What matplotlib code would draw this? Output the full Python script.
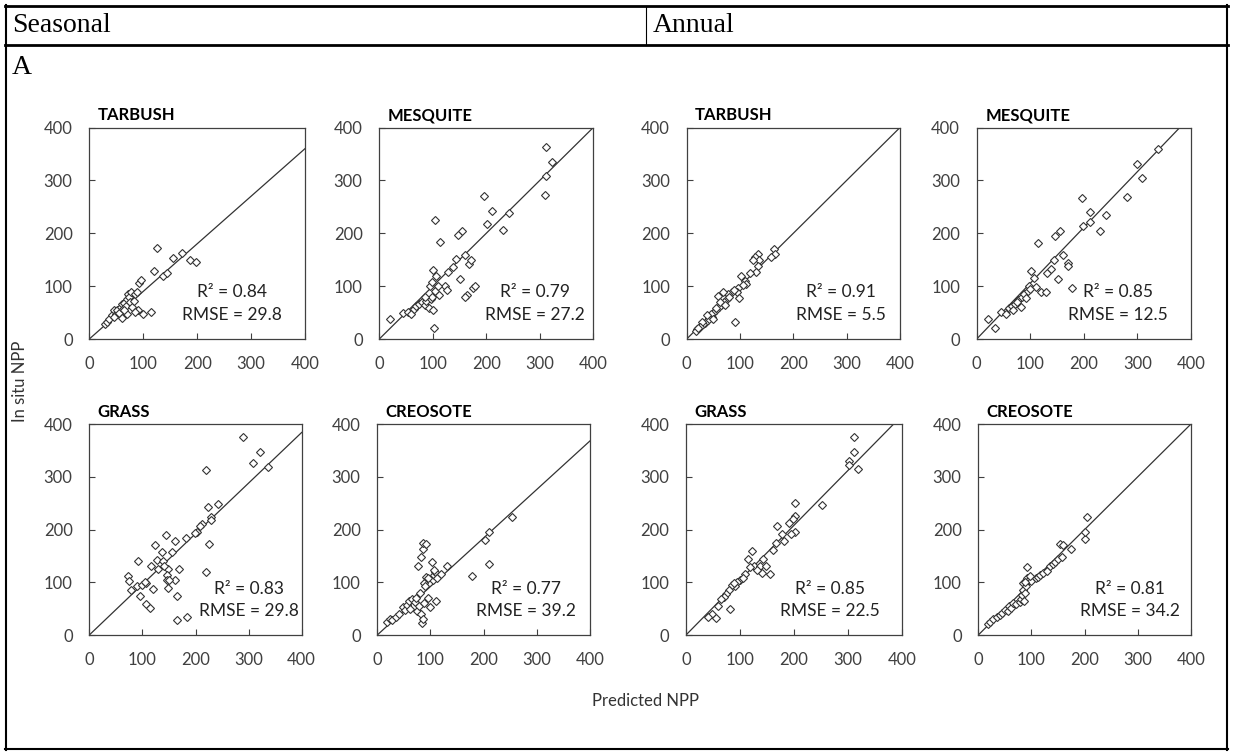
import matplotlib.pyplot as plt
from matplotlib.lines import Line2D

W, H = 1233, 753

tarbush_seasonal = [(30,28),(33,32),(37,38),(42,45),(45,55),(50,48),(52,55),(55,50),(58,60),(60,66),
                    (62,57),(65,68),(68,62),(70,76),(72,85),(74,80),(76,70),(78,88),(80,60),(82,72),
                    (85,86),(88,88),(92,105),(96,112),(90,55),(100,48),(115,52),(120,128),(125,172),
                    (137,119),(144,125),(156,153),(171,162),(187,150),(198,145),(60,40),(70,48),
                    (85,52),(45,42),(65,55)]
mesquite_seasonal = [(20,37),(44,50),(54,52),(60,48),(64,56),(68,62),(74,66),(80,70),(85,65),(88,72),
                     (92,58),(96,75),(98,80),(100,54),(103,20),(104,90),(101,131),(106,119),(95,100),
                     (98,107),(112,84),(123,100),(127,92),(129,127),(137,136),(143,152),(150,114),
                     (155,205),(147,197),(160,158),(163,84),(160,79),(168,141),(171,149),(176,97),
                     (179,100),(105,225),(113,184),(196,270),(201,217),(211,243),(231,206),(242,238),
                     (310,272),(312,308),(312,363),(322,334),(85,80),(110,100)]
tarbush_annual = [(164,171),(166,160),(159,156),(134,160),(128,155),(136,149),(125,150),(133,139),
                  (130,126),(119,125),(101,120),(109,110),(112,104),(105,102),(97,97),(94,88),(98,78),
                  (85,88),(78,85),(69,88),(59,82),(90,33),(75,75),(70,70),(65,65),(60,60),(55,55),
                  (50,50),(48,42),(45,48),(42,40),(40,35),(38,45),(35,30),(30,28),(28,32),(25,22),
                  (20,18),(18,15),(22,20),(62,70),(55,58),(80,80),(88,92),(72,65),(50,38)]
mesquite_annual = [(22,37),(34,21),(46,52),(54,48),(60,58),(66,62),(72,66),(78,74),(82,61),(85,80),
                   (88,85),(92,78),(95,90),(98,100),(102,129),(107,116),(110,98),(115,181),(120,88),
                   (129,89),(132,125),(139,133),(144,150),(146,195),(151,113),(155,204),(162,158),
                   (170,144),(170,138),(177,97),(197,267),(198,213),(211,241),(211,222),(231,204),
                   (242,234),(281,269),(300,331),(309,305),(339,360),(75,70),(68,55),(100,95)]
grass_seasonal = [(290,375),(321,346),(309,326),(336,319),(220,313),(224,243),(243,248),(230,224),
                  (229,218),(213,211),(208,206),(202,196),(199,193),(183,183),(144,190),(161,179),
                  (124,171),(136,158),(155,158),(226,173),(92,140),(128,142),(139,140),(130,125),
                  (149,125),(168,125),(220,119),(73,111),(147,114),(147,105),(75,103),(90,92),
                  (100,95),(107,98),(79,85),(96,74),(107,58),(114,51),(165,74),(148,89),(162,104),
                  (165,28),(184,35),(117,130),(105,100),(120,88),(140,130),(150,105)]
creosote_seasonal = [(18,25),(24,30),(28,28),(35,35),(40,40),(48,54),(52,47),(55,57),(60,64),(62,50),
                     (66,68),(70,62),(72,70),(75,45),(78,55),(80,80),(82,40),(84,23),(86,30),(88,98),
                     (88,60),(90,92),(92,110),(95,70),(100,54),(104,104),(106,113),(108,120),(96,109),
                     (112,109),(120,116),(107,123),(103,138),(132,131),(76,130),(82,147),(86,163),
                     (86,175),(92,172),(179,112),(202,180),(210,196),(210,135),(254,223),(110,65)]
grass_annual = [(311,375),(311,347),(301,329),(301,323),(319,315),(252,247),(202,251),(202,226),
                (199,220),(202,196),(194,192),(191,212),(169,207),(177,191),(181,179),(167,175),
                (162,161),(122,160),(115,144),(143,144),(126,130),(119,128),(137,130),(149,130),
                (140,117),(156,115),(132,123),(110,115),(100,105),(95,100),(90,92),(85,95),(80,85),
                (75,78),(70,72),(65,68),(60,55),(48,40),(40,35),(55,32),(82,50),(88,98),(105,108)]
creosote_annual = [(18,20),(22,25),(28,30),(35,35),(40,38),(45,42),(50,48),(55,45),(58,55),(62,52),
                   (65,60),(70,58),(78,62),(80,68),(82,75),(84,85),(85,98),(86,65),(88,80),(90,92),
                   (91,109),(91,128),(95,105),(100,102),(108,109),(112,110),(116,113),(122,118),
                   (129,121),(135,130),(140,135),(144,139),(150,145),(157,147),(154,172),(160,171),
                   (174,163),(200,182),(200,196),(205,223),(88,100),(97,112)]

names = ["TARBUSH", "MESQUITE", "TARBUSH", "MESQUITE", "GRASS", "CREOSOTE", "GRASS", "CREOSOTE"]
series = [tarbush_seasonal, mesquite_seasonal, tarbush_annual, mesquite_annual,
          grass_seasonal, creosote_seasonal, grass_annual, creosote_annual]
slopes = [0.90, 1.0, 1.0, 1.055, 0.96, 0.92, 1.04, 1.0]
r2 = ["0.84", "0.79", "0.91", "0.85", "0.83", "0.77", "0.85", "0.81"]
rmse = ["29.8", "27.2", "5.5", "12.5", "29.8", "39.2", "22.5", "34.2"]

# layout in pixels: left, right, top, bottom of each plot area; text x centre in data units
boxes = [(89.3, 305, 127.5, 339), (379.3, 593.3, 127.5, 339), (686.7, 900, 127.5, 339),
         (976.7, 1191, 127.5, 339), (89.3, 301.7, 424, 635), (377.3, 590, 424, 635),
         (686, 902, 424, 635), (978.3, 1191, 424, 635)]
text_x = [264, 291, 289, 264, 301, 279, 267, 285]

sans = ["Lato", "DejaVu Sans"]
fig = plt.figure(figsize=(W / 100, H / 100), dpi=100)

for i in range(8):
    l, r, t, b = boxes[i]
    ax = fig.add_axes([l / W, 1 - b / H, (r - l) / W, (b - t) / H])
    xs = [p[0] for p in series[i]]
    ys = [p[1] for p in series[i]]
    ax.plot([0, 400], [0, 400 * slopes[i]], color='#333333', lw=0.9, zorder=2)
    ax.plot(xs, ys, ls='none', marker='D', ms=4.4, mfc='white', mec='#333333', mew=0.8, zorder=3)
    ax.set_xlim(0, 400)
    ax.set_ylim(0, 400)
    ax.set_xticks([0, 100, 200, 300, 400])
    ax.set_yticks([0, 100, 200, 300, 400])
    ax.tick_params(direction='in', length=4, width=0.8, color='#404040', pad=12,
                   labelsize=12, labelcolor='#404040')
    for lab in ax.get_xticklabels() + ax.get_yticklabels():
        lab.set_family(sans)
    for s in ax.spines.values():
        s.set_linewidth(0.9)
        s.set_color('#404040')
    ax.text(text_x[i], 88, "R² = " + r2[i], ha='center', va='center', fontsize=12.5,
            family=sans, color='#222222')
    ax.text(text_x[i], 45, "RMSE = " + rmse[i], ha='center', va='center', fontsize=12.5,
            family=sans, color='#222222')
    ax.text(0.04, 1.02, names[i], transform=ax.transAxes, ha='left', va='bottom',
            fontsize=12, fontweight='bold', family=sans)

# table frame
def hline(x0, x1, y, lw):
    fig.add_artist(Line2D([x0 / W, x1 / W], [1 - y / H, 1 - y / H], color='black', lw=lw))

def vline(x, y0, y1, lw):
    fig.add_artist(Line2D([x / W, x / W], [1 - y0 / H, 1 - y1 / H], color='black', lw=lw))

hline(5, 1228, 6, 2.0)
hline(5, 1228, 45, 2.0)
hline(5, 1228, 749, 1.5)
vline(6, 5, 750, 1.5)
vline(1227, 5, 750, 1.5)
vline(646, 6, 45, 0.8)

serif = "Liberation Serif"
fig.text(12 / W, 1 - 26 / H, "Seasonal", family=serif, fontsize=20, va='center', ha='left')
fig.text(653 / W, 1 - 26 / H, "Annual", family=serif, fontsize=20, va='center', ha='left')
fig.text(12 / W, 1 - 68 / H, "A", family=serif, fontsize=20, va='center', ha='left')

fig.text(20 / W, 1 - 381 / H, "In situ NPP", rotation=90, family=sans, fontsize=12,
         va='center', ha='center', color='#333333')
fig.text(646 / W, 1 - 701 / H, "Predicted NPP", family=sans, fontsize=12,
         va='center', ha='center', color='#333333')

plt.savefig("out.png", dpi=100)
